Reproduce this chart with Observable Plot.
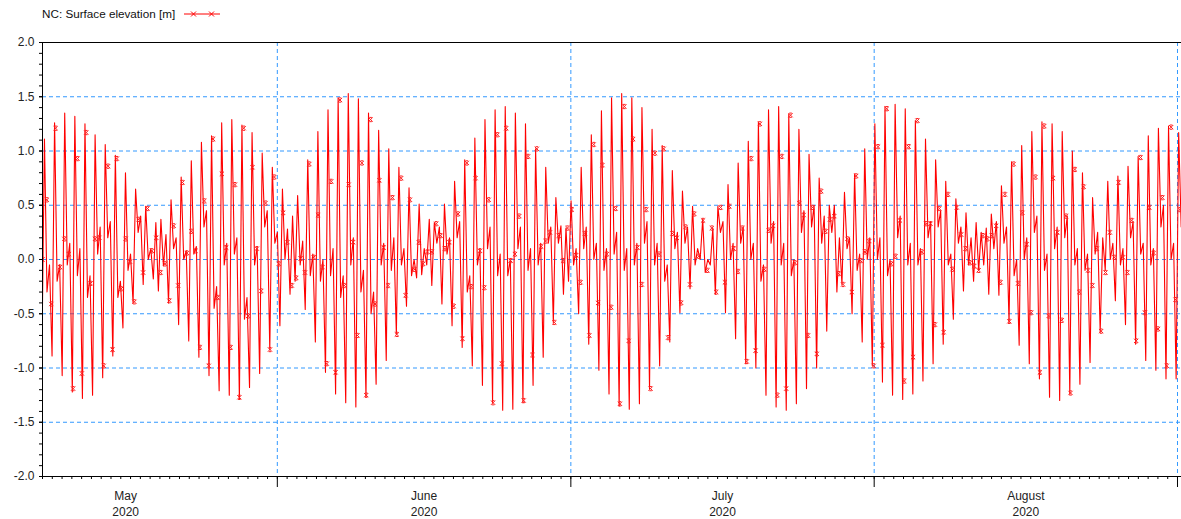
<!DOCTYPE html>
<html><head><meta charset="utf-8">
<script src="https://cdn.jsdelivr.net/npm/d3@7"></script>
<script src="https://cdn.jsdelivr.net/npm/@observablehq/plot@0.6"></script>
<style>
body{margin:0;background:#fff;}
#wrap{position:relative;width:1181px;height:519px;overflow:hidden;background:#fff;}
#legend{position:absolute;left:42px;top:7px;font:11.7px 'Liberation Sans',Arial,sans-serif;color:#111;display:flex;align-items:center;gap:9px;line-height:14px;}
#legend svg{display:block}
</style></head><body>
<div id="wrap"><div id="legend"><span id="legendText"></span><svg width="36" height="10"><line x1="0" y1="5" x2="36" y2="5" stroke="#ff0000" stroke-width="1"/><path d="M7,2.5L12,7.5M12,2.5L7,7.5M25,2.5L30,7.5M30,2.5L25,7.5" stroke="#ff0000" stroke-width="1"/></svg></div></div>
<script>
// ---- data ----
const seriesName = "NC: Surface elevation [m]";
const startDate = "2020-05-08T00:00:00Z";   // left edge of the time axis
const endOffsetDays = 116.41;                 // right edge, days after start
const firstHighDays = 0.2;                    // time of first high water
const tideCycleDays = 0.5175;                 // sampling step of extremes (12.42 h)
const markerStepDays = 0.4471;                // marker spacing
const monthLabels = ["May", "June", "July", "August"];
const yearLabel = "2020";
const monthStartDates = ["2020-06-01", "2020-07-01", "2020-08-01", "2020-09-01"];
const monthMidDates = ["2020-05-16T12:00:00Z", "2020-06-16T00:00:00Z", "2020-07-16T12:00:00Z", "2020-08-16T12:00:00Z"];
const yMajorTicks = [-2, -1.5, -1, -0.5, 0, 0.5, 1, 1.5, 2];
const yGridValues = [-1.5, -1, -0.5, 0, 0.5, 1, 1.5];

// high waters (one per tidal cycle)
const highs = [1.11,-0.05,1.26,-0.05,1.35,0.15,1.32,0.1,1.25,-0.15,1.15,0.3,1.06,0.35,0.96,-0.2,0.80,0.05,0.65,0.4,
0.49,0.1,0.34,0.37,0.23,0.55,0.2,0.76,0.08,0.91,0.12,1.08,0.45,1.14,-0.25,1.26,0.15,1.29,0.2,1.24,
-0.35,1.17,0.12,0.98,0.45,0.85,0.25,0.65,0.28,0.40,0.59,0.17,0.92,0.05,1.18,0.0,1.38,0.1,1.49,-0.15,
1.53,0.2,1.48,-0.1,1.35,-0.3,1.19,0.15,1.02,0.2,0.85,0.1,0.66,0.0,0.51,0.1,0.37,0.34,0.3,0.51,
0.2,0.72,0.35,0.92,-0.15,1.12,0.1,1.29,0.3,1.38,0.05,1.41,0.0,1.35,0.3,1.25,0.1,1.02,0.15,0.85,
0.3,0.57,0.31,0.29,0.54,0.1,0.85,0.3,1.15,0.15,1.37,0.1,1.49,0.25,1.53,0.1,1.49,0.15,1.40,0.35,
1.2,0.15,1.05,-0.05,0.82,0.25,0.63,0.3,0.49,0.1,0.37,0.0,0.29,0.49,0.35,0.69,0.15,0.89,0.3,1.09,
0.15,1.27,-0.05,1.38,0.35,1.41,0.15,1.34,0.0,1.2,0.45,0.97,0.5,0.75,0.4,0.5,0.5,0.2,0.62,0.2,
0.79,0.05,1.02,0.2,1.25,0.2,1.41,0.0,1.43,0.4,1.39,0.15,1.28,0.1,1.11,0.35,0.92,0.45,0.72,0.05,
0.56,0.3,0.43,0.2,0.34,0.25,0.29,0.42,0.35,0.68,0.3,0.9,0.0,1.05,0.2,1.18,0.4,1.27,0.05,1.25,
0.3,1.18,0.4,1.0,0.1,0.8,0.05,0.57,0.25,0.2,0.72,0.15,0.77,0.1,0.86,0.35,0.95,0.15,1.14,0.1,
1.21,0.5,1.23,0.15,1.17];

// low waters (each one precedes the high of the same index)
const lows = [-0.84,-0.30,-0.89,-0.20,-1.07,-0.05,-1.22,-0.15,-1.28,-0.35,-1.25,0.05,-1.09,0.2,-0.89,-0.35,-0.63,-0.1,-0.40,0.25,
-0.23,0.0,-0.18,-0.29,-0.06,-0.40,0.1,-0.60,0.0,-0.75,0.05,-0.90,0.3,-1.07,-0.45,-1.21,-0.05,-1.25,0.05,-1.29,
-0.55,-1.18,-0.05,-1.05,0.3,-0.83,0.15,-0.61,0.0,-0.32,-0.2,-0.05,-0.46,-0.15,-0.76,-0.2,-1.04,-0.15,-1.24,-0.35,
-1.32,-0.05,-1.36,-0.3,-1.27,-0.5,-1.15,-0.05,-0.93,-0.1,-0.69,-0.05,-0.43,-0.15,-0.17,-0.14,-0.05,-0.24,0.15,-0.41,
0.05,-0.61,0.2,-0.81,-0.3,-0.98,-0.05,-1.16,0.1,-1.32,-0.15,-1.39,-0.15,-1.38,0.1,-1.32,-0.1,-1.16,-0.05,-0.90,
0.15,-0.58,0.15,-0.32,-0.2,-0.05,-0.50,0.1,-0.78,0.0,-1.02,-0.1,-1.24,0.05,-1.35,-0.1,-1.38,-0.05,-1.33,0.15,
-1.19,-0.05,-0.98,-0.2,-0.76,0.1,-0.49,0.15,-0.27,-0.05,0.0,-0.12,-0.05,-0.32,0.25,-0.49,0.0,-0.73,0.15,-0.96,
0.0,-1.0,-0.2,-1.25,0.15,-1.36,-0.05,-1.39,-0.15,-1.33,0.25,-1.19,0.3,-1.0,0.15,-0.66,0.25,-0.3,-0.23,0.1,
-0.5,-0.1,-0.76,0.0,-0.98,0.0,-1.13,-0.15,-1.25,0.2,-1.29,-0.05,-1.24,-0.05,-1.12,0.2,-0.96,0.3,-0.78,-0.05,
-0.55,0.15,-0.29,-0.05,-0.2,-0.1,-0.05,-0.32,0.1,-0.33,0.15,-0.58,-0.15,-0.79,0.0,-0.96,0.25,-1.10,-0.1,-1.27,
0.1,-1.3,0.2,-1.24,-0.05,-1.15,-0.1,-0.95,0.05,-0.67,-0.1,0.0,-0.38,-0.05,-0.6,0.2,-0.78,0.05,-0.93,-0.05,
-1.02,0.3,-1.1,0.0,-1.1,0.3];

// values at the "x" markers
const markerValues = [0.0,0.55,-0.41,1.21,-0.07,0.19,0.05,-1.19,0.93,-1.05,1.17,-0.22,0.19,0.2,-0.98,0.86,-0.83,0.93,-0.27,0.19,
-0.02,-0.39,0.37,-0.12,0.47,0.08,0.2,-0.12,-0.04,-0.38,0.31,-0.24,0.71,0.06,0.26,0.08,-0.81,0.54,-0.98,1.11,
-0.35,0.79,0.11,-0.81,0.69,-1.27,1.21,-0.52,0.85,0.10,-0.29,0.52,-0.83,0.76,-0.04,0.43,0.16,-0.24,-0.17,0.01,
-0.12,0.88,0.02,0.41,-0.07,-0.96,0.72,-1.04,1.47,-0.24,0.69,0.16,-0.70,0.89,-1.25,1.29,-0.41,0.73,0.11,-0.24,
0.57,-0.69,0.75,-0.33,0.55,-0.09,0.16,-0.04,0.07,0.07,0.33,0.22,0.10,0.16,-0.43,0.42,-0.73,0.89,-0.25,0.75,
0.08,-0.26,0.55,-1.32,1.15,-0.96,1.21,-0.01,0.05,0.40,-1.30,0.95,-0.88,1.02,0.12,0.17,0.25,-0.58,0.22,-0.01,
0.29,0.46,0.04,-0.21,0.24,-0.70,1.06,-0.40,0.87,0.05,-0.44,0.47,-1.33,1.41,-0.75,1.11,0.11,-0.23,0.46,-1.19,
0.98,0.05,1.02,-0.72,0.24,0.20,-0.40,0.30,-0.23,0.42,0.03,0.36,-0.10,0.29,-0.30,0.48,-0.21,0.49,0.10,-0.11,
0.29,-0.94,0.93,-0.84,1.25,-0.09,0.27,0.31,-1.25,0.95,-1.19,1.33,-0.03,0.52,0.41,-0.70,0.48,-0.87,0.63,0.26,
0.37,0.40,-0.13,-0.23,0.19,-0.30,0.77,-0.01,0.07,0.17,-0.98,1.04,-0.79,1.39,-0.04,0.03,0.36,-1.12,1.04,-0.90,
1.28,0.07,0.33,0.33,-0.60,0.47,-0.67,0.60,-0.09,0.48,0.23,0.10,-0.03,-0.06,-0.10,0.22,0.19,0.22,0.31,-0.21,
0.60,-0.57,0.88,-0.22,0.43,0.14,-0.49,0.76,-1.04,1.23,-0.52,0.75,0.25,-0.56,0.40,-1.23,0.83,-0.30,0.67,-0.10,
-0.24,0.10,-0.66,-0.12,0.25,0.02,0.71,0.02,-0.12,0.36,-0.75,0.94,-0.49,0.48,0.06,-0.64,0.57,-0.98,1.22,-0.37,
0.46];

// ---- build tables for the library ----
const DAY = 864e5;
const t0 = Date.parse(startDate);
const at = d => new Date(t0 + d * DAY);
const xDomain = [at(0), at(endOffsetDays)];

const series = [];
lows.forEach((v, i) => {
  series.push({t: at(firstHighDays + i * tideCycleDays - tideCycleDays / 2), v});
  if (i < highs.length) series.push({t: at(firstHighDays + i * tideCycleDays), v: highs[i]});
});
const markers = markerValues.map((v, m) => ({t: at(m * markerStepDays), v}));

const monthStarts = monthStartDates.map(s => new Date(s + "T00:00:00Z"));
const monthMids = monthMidDates.map(s => new Date(s));
const midLabel = new Map(monthMids.map((d, i) => [+d, monthLabels[i] + "\n" + yearLabel]));
const dayTicks = d3.utcDay.range(xDomain[0], xDomain[1]);
const yMinorTicks = d3.range(-20, 21).map(k => k / 10);

document.getElementById("legendText").textContent = seriesName;

// hourglass-like cross marker (x with short top and bottom bars)
const crossBar = {
  draw(ctx, size) {
    const r = Math.sqrt(size) / 2;
    ctx.moveTo(-r, -r); ctx.lineTo(r, r);
    ctx.moveTo(r, -r); ctx.lineTo(-r, r);
    ctx.moveTo(-r * 0.6, -r); ctx.lineTo(r * 0.6, -r);
    ctx.moveTo(-r * 0.6, r); ctx.lineTo(r * 0.6, r);
  }
};

const gridColor = "#3399ff";
const chart = Plot.plot({
  width: 1181,
  height: 519,
  marginLeft: 42,
  marginRight: 0,
  marginTop: 42,
  marginBottom: 43,
  style: {fontFamily: "'Liberation Sans', Arial, sans-serif", fontSize: "12px", color: "#000", background: "transparent", overflow: "visible"},
  x: {type: "utc", domain: xDomain, label: null},
  y: {domain: [-2, 2], label: null},
  marks: [
    Plot.ruleY(yGridValues, {stroke: gridColor, strokeDasharray: "4,3", strokeWidth: 1}),
    Plot.ruleX(monthStarts, {stroke: gridColor, strokeDasharray: "4,3", strokeWidth: 1}),
    Plot.line(series, {x: "t", y: "v", stroke: "#ff0000", strokeWidth: 1.1, clip: true}),
    Plot.dot(markers, {x: "t", y: "v", symbol: crossBar, r: 2.4, stroke: "#ff2020", strokeWidth: 1, clip: true}),
    Plot.ruleY([-2, 2], {stroke: "#000", strokeWidth: 1}),
    Plot.ruleX([xDomain[0]], {stroke: "#000", strokeWidth: 1}),
    Plot.axisY(yMinorTicks, {tickSize: 3, tickFormat: () => "", label: null}),
    Plot.axisY(yMajorTicks, {tickSize: 3, tickPadding: 5, tickFormat: d => d.toFixed(1), label: null, fill: "#222"}),
    Plot.axisX(dayTicks, {tickSize: 3, tickFormat: () => "", label: null}),
    Plot.axisX(monthStarts, {tickSize: 11, tickFormat: () => "", label: null}),
    Plot.axisX(monthMids, {tickSize: 0, tickPadding: 12, tickFormat: d => midLabel.get(+d), lineHeight: 1.35, label: null, fill: "#222"})
  ]
});
document.getElementById("wrap").prepend(chart);
</script>
</body></html>
